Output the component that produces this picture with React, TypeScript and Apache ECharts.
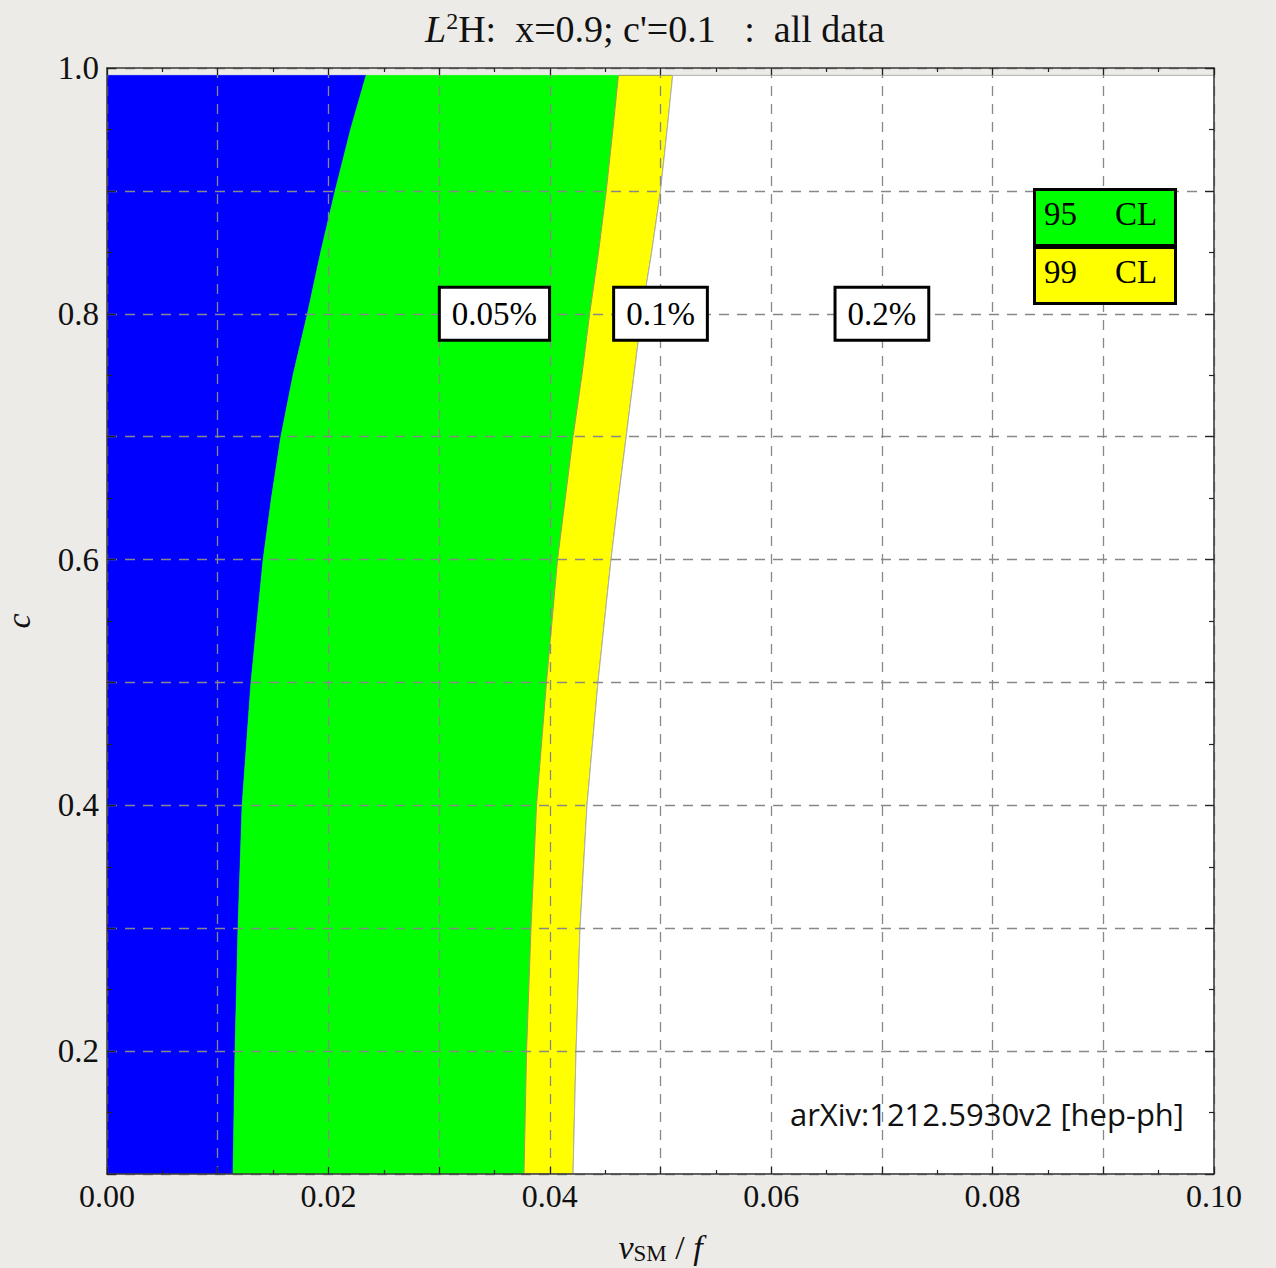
import React, { useEffect, useRef } from "react";
import * as echarts from "echarts";

// c values (y) at which the region boundaries were read
const cLevels = [0.1, 0.2, 0.3, 0.4, 0.5, 0.6, 0.65, 0.7, 0.75, 0.8, 0.85, 0.9, 0.95, 0.994];
// v_SM/f of boundary: blue (0.05%) | green
const blueEdge = [0.01138, 0.01156, 0.01183, 0.0122, 0.013, 0.0141, 0.01485, 0.0157, 0.0168, 0.0181, 0.0193, 0.0206, 0.022, 0.0234];
// boundary: green (95 CL) | yellow
const greenEdge = [0.03767, 0.0379, 0.0383, 0.0388, 0.0397, 0.0407, 0.0414, 0.0421, 0.0429, 0.0436, 0.0444, 0.0451, 0.0457, 0.0462];
// boundary: yellow (99 CL) | white
const yellowEdge = [0.0421, 0.04237, 0.04273, 0.04336, 0.04435, 0.04553, 0.0462, 0.0469, 0.0476, 0.0483, 0.0492, 0.0500, 0.0506, 0.0511];

const contourLabels = ["0.05%", "0.1%", "0.2%"];
const contourLabelX = [0.035, 0.05, 0.07];
const contourLabelY = [0.8, 0.8, 0.8];

const legendItems = ["95", "99"];
const legendColors = ["#00FF00", "#FFFF00"];

const X_MIN = 0;
const X_MAX = 0.1;
const Y_MIN = 0.1;
const Y_MAX = 1.0;

const SERIF = "'Liberation Serif', 'Times New Roman', serif";
const BG = "#ECEBE7";

function region(left: number[] | null, right: number[] | null, color: string, stroke?: string) {
  return {
    type: "custom",
    silent: true,
    clip: true,
    z: 1,
    data: [[0, 0]],
    renderItem: (_params: any, api: any) => {
      const pts: number[][] = [];
      for (let i = 0; i < cLevels.length; i++) {
        pts.push(api.coord([left ? left[i] : X_MIN, cLevels[i]]));
      }
      for (let i = cLevels.length - 1; i >= 0; i--) {
        pts.push(api.coord([right ? right[i] : X_MAX, cLevels[i]]));
      }
      return {
        type: "polygon",
        shape: { points: pts },
        style: { fill: color, stroke: stroke || color, lineWidth: stroke ? 1 : 0.5 },
      };
    },
  };
}

export default function App() {
  const ref = useRef<HTMLDivElement>(null);

  useEffect(() => {
    if (!ref.current) return;
    const chart = echarts.init(ref.current, null, { renderer: "svg" });

    const gridLine = { show: true, lineStyle: { color: "#888888", width: 1.3, type: [10, 8] as any } };
    const axisLineStyle = { show: true, onZero: false, lineStyle: { color: "#3a3a3a", width: 1.5 } };

    const legendGraphics: any[] = [];
    legendItems.forEach((t, i) => {
      const top = 188 + i * 58;
      legendGraphics.push({
        type: "rect",
        left: 1033,
        top,
        shape: { width: 141, height: 56 },
        style: { fill: legendColors[i], stroke: "#000", lineWidth: 3 },
        z: 20,
      });
      legendGraphics.push({
        type: "text",
        left: 1044,
        top: top + 9,
        style: { text: t, font: `33px ${SERIF}`, fill: "#000" },
        z: 21,
      });
      legendGraphics.push({
        type: "text",
        left: 1115,
        top: top + 9,
        style: { text: "CL", font: `33px ${SERIF}`, fill: "#000" },
        z: 21,
      });
    });

    chart.setOption({
      animation: false,
      backgroundColor: BG,
      title: {
        left: 420,
        top: 4,
        text: "{i|L}{sup|2}{n|H:  x=0.9; c'=0.1   :  all data}",
        textStyle: {
          fontWeight: "normal",
          rich: {
            i: { fontFamily: SERIF, fontStyle: "italic", fontWeight: "normal", fontSize: 38, color: "#111" },
            sup: { fontFamily: SERIF, fontWeight: "normal", fontSize: 24, color: "#111", verticalAlign: "top", padding: [0, 0, 15, 0] },
            n: { fontFamily: SERIF, fontWeight: "normal", fontSize: 38, color: "#111" },
          },
        },
      },
      grid: { left: 107, right: 62, top: 68, bottom: 94, containLabel: false, outerBoundsMode: "none" },
      xAxis: [
        {
          type: "value",
          min: X_MIN,
          max: X_MAX,
          interval: 0.01,
          position: "bottom",
          z: 5,
          axisLine: axisLineStyle,
          axisTick: { show: true, inside: true, length: 7, lineStyle: { color: "#222", width: 1.2 } },
          minorTick: { show: true, splitNumber: 2, length: 4, lineStyle: { color: "#222", width: 1.2 } },
          splitLine: gridLine,
          axisLabel: {
            margin: 6,
            fontFamily: SERIF,
            fontSize: 32,
            color: "#111",
            formatter: (v: number) => (Math.round(v * 100) % 2 === 0 ? v.toFixed(2) : ""),
          },
          name: "{i|v}{sub|SM}{n| / }{i|f}",
          nameLocation: "middle",
          nameGap: 56,
          nameTextStyle: {
            rich: {
              i: { fontFamily: SERIF, fontStyle: "italic", fontSize: 34, color: "#111" },
              sub: { fontFamily: SERIF, fontSize: 23, color: "#111", verticalAlign: "bottom", padding: [12, 0, 0, 0] },
              n: { fontFamily: SERIF, fontSize: 34, color: "#111" },
            },
          },
        },
        {
          type: "value",
          min: X_MIN,
          max: X_MAX,
          interval: 0.01,
          position: "top",
          z: 5,
          axisLine: axisLineStyle,
          axisTick: { show: true, inside: true, length: 7, lineStyle: { color: "#222", width: 1.2 } },
          minorTick: { show: true, splitNumber: 2, length: 4, lineStyle: { color: "#222", width: 1.2 } },
          splitLine: { show: false },
          axisLabel: { show: false },
        },
      ],
      yAxis: [
        {
          type: "value",
          min: Y_MIN,
          max: Y_MAX,
          interval: 0.1,
          position: "left",
          z: 5,
          axisLine: axisLineStyle,
          axisTick: { show: true, inside: true, length: 9, lineStyle: { color: "#222", width: 1.2 } },
          minorTick: { show: true, splitNumber: 2, length: 5, lineStyle: { color: "#222", width: 1.2 } },
          splitLine: gridLine,
          axisLabel: {
            margin: 8,
            fontFamily: SERIF,
            fontSize: 33,
            color: "#111",
            formatter: (v: number) => (Math.round(v * 10) % 2 === 0 ? v.toFixed(1) : ""),
          },
          name: "c",
          nameLocation: "middle",
          nameGap: 72,
          nameRotate: 90,
          nameTextStyle: { fontFamily: SERIF, fontStyle: "italic", fontSize: 34, color: "#111" },
        },
        {
          type: "value",
          min: Y_MIN,
          max: Y_MAX,
          interval: 0.1,
          position: "right",
          z: 5,
          axisLine: axisLineStyle,
          axisTick: { show: true, inside: true, length: 9, lineStyle: { color: "#222", width: 1.2 } },
          minorTick: { show: true, splitNumber: 2, length: 5, lineStyle: { color: "#222", width: 1.2 } },
          splitLine: { show: false },
          axisLabel: { show: false },
        },
      ],
      series: [
        region(null, blueEdge, "#0000FF"),
        region(blueEdge, greenEdge, "#00FF00"),
        region(greenEdge, yellowEdge, "#FFFF00", "#9a9a60"),
        region(yellowEdge, null, "#FFFFFF", "#b0b0b0"),
        {
          type: "scatter",
          silent: true,
          z: 10,
          symbolSize: 0,
          itemStyle: { opacity: 1 },
          data: contourLabels.map((t, i) => ({ name: t, value: [contourLabelX[i], contourLabelY[i]] })),
          label: {
            show: true,
            position: "inside",
            formatter: (p: any) => p.name,
            fontFamily: SERIF,
            fontSize: 33,
            color: "#000",
            opacity: 1,
            backgroundColor: "#FFFFFF",
            borderColor: "#000",
            borderWidth: 3,
            padding: [9, 11, 8, 11],
          },
        },
      ],
      graphic: [
        ...legendGraphics,
        {
          type: "text",
          right: 92,
          top: 1098,
          style: { text: "arXiv:1212.5930v2 [hep-ph]", font: "31px 'Open Sans', sans-serif", fill: "#111" },
          z: 21,
        },
      ],
    });

    return () => chart.dispose();
  }, []);

  return (
    <div
      ref={ref}
      style={{ position: "absolute", left: 0, top: 0, width: 1276, height: 1268, background: BG }}
    />
  );
}
